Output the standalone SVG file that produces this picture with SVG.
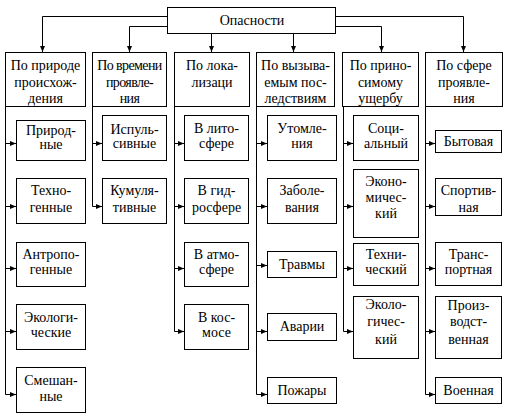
<svg xmlns="http://www.w3.org/2000/svg" width="506" height="418" viewBox="0 0 506 418">
<style>
rect{fill:#fff;stroke:#000;stroke-width:1}
.t text{font-size:14px;fill:#000;text-anchor:middle}
.c path{fill:none;stroke:#000;stroke-width:1}
</style>
<defs>
<marker id="a" markerUnits="userSpaceOnUse" markerWidth="6" markerHeight="5" refX="6" refY="2.5" orient="auto">
<path d="M0,0 L6,2.5 L0,5 Z" fill="#000"/>
</marker>
</defs>
<rect width="506" height="418" style="stroke:none"/>
<g class="c" id="connectors">
<path d="M167,16.5 H42.5 V52" marker-end="url(#a)"/>
<path d="M167,26.5 H129.5 V52" marker-end="url(#a)"/>
<path d="M211.5,34 V52" marker-end="url(#a)"/>
<path d="M293.5,34 V52" marker-end="url(#a)"/>
<path d="M336,26.5 H381.5 V52" marker-end="url(#a)"/>
<path d="M336,16.5 H463.5 V52" marker-end="url(#a)"/>
<path d="M5.5,106 V394.5"/>
<path d="M5.5,143.5 H16" marker-end="url(#a)"/>
<path d="M5.5,206.5 H16" marker-end="url(#a)"/>
<path d="M5.5,268.5 H16" marker-end="url(#a)"/>
<path d="M5.5,331.5 H16" marker-end="url(#a)"/>
<path d="M5.5,394.5 H16" marker-end="url(#a)"/>
<path d="M92.5,106 V206.5"/>
<path d="M92.5,143.5 H102" marker-end="url(#a)"/>
<path d="M92.5,206.5 H102" marker-end="url(#a)"/>
<path d="M174.5,106 V331.5"/>
<path d="M174.5,143.5 H184" marker-end="url(#a)"/>
<path d="M174.5,206.5 H184" marker-end="url(#a)"/>
<path d="M174.5,268.5 H184" marker-end="url(#a)"/>
<path d="M174.5,331.5 H184" marker-end="url(#a)"/>
<path d="M256.5,106 V394.5"/>
<path d="M256.5,143.5 H267" marker-end="url(#a)"/>
<path d="M256.5,206.5 H267" marker-end="url(#a)"/>
<path d="M256.5,265.5 H267" marker-end="url(#a)"/>
<path d="M256.5,331.5 H267" marker-end="url(#a)"/>
<path d="M256.5,394.5 H267" marker-end="url(#a)"/>
<path d="M343.5,106 V331.5"/>
<path d="M343.5,143.5 H353" marker-end="url(#a)"/>
<path d="M343.5,206.5 H353" marker-end="url(#a)"/>
<path d="M343.5,268.5 H353" marker-end="url(#a)"/>
<path d="M343.5,331.5 H353" marker-end="url(#a)"/>
<path d="M425.5,106 V394.5"/>
<path d="M425.5,143.5 H435" marker-end="url(#a)"/>
<path d="M425.5,206.5 H435" marker-end="url(#a)"/>
<path d="M425.5,268.5 H435" marker-end="url(#a)"/>
<path d="M425.5,331.5 H435" marker-end="url(#a)"/>
<path d="M425.5,394.5 H435" marker-end="url(#a)"/>
</g>
<g class="t" font-family="Liberation Serif, Times New Roman, serif" style="font-family:'Liberation Serif','Times New Roman',serif">
<g id="root"><rect x="167.5" y="7.5" width="168" height="26"/><text x="252" y="25">Опасности</text></g>
<g id="cat1"><rect x="5.5" y="52.5" width="80" height="54"/><text><tspan x="45.5" y="70">По природе</tspan><tspan x="45.5" y="87">происхож-</tspan><tspan x="45.5" y="103">дения</tspan></text></g>
<g id="cat2"><rect x="92.5" y="52.5" width="74" height="54"/><text style="letter-spacing:-0.6px"><tspan x="129.5" y="70">По времени</tspan><tspan x="129.5" y="87">проявле-</tspan><tspan x="129.5" y="103">ния</tspan></text></g>
<g id="cat3"><rect x="174.5" y="52.5" width="75" height="54"/><text><tspan x="212" y="70">По лока-</tspan><tspan x="212" y="87">лизаци</tspan></text></g>
<g id="cat4"><rect x="256.5" y="52.5" width="78" height="54"/><text><tspan x="295.5" y="70">По вызыва-</tspan><tspan x="295.5" y="87">емым пос-</tspan><tspan x="295.5" y="103">ледствиям</tspan></text></g>
<g id="cat5"><rect x="342.5" y="52.5" width="76" height="54"/><text><tspan x="380.5" y="70">По прино-</tspan><tspan x="380.5" y="87">симому</tspan><tspan x="380.5" y="103">ущербу</tspan></text></g>
<g id="cat6"><rect x="425.5" y="52.5" width="77" height="54"/><text><tspan x="464" y="70">По сфере</tspan><tspan x="464" y="87">проявле-</tspan><tspan x="464" y="103">ния</tspan></text></g>

<g id="n1a"><rect x="16.5" y="120.5" width="69" height="40"/><text><tspan x="51" y="135">Природ-</tspan><tspan x="51" y="149">ные</tspan></text></g>
<g id="n1b"><rect x="16.5" y="178.5" width="69" height="45"/><text><tspan x="51" y="195">Техно-</tspan><tspan x="51" y="212">генные</tspan></text></g>
<g id="n1c"><rect x="16.5" y="242.5" width="69" height="44"/><text><tspan x="51" y="259">Антропо-</tspan><tspan x="51" y="274">генные</tspan></text></g>
<g id="n1d"><rect x="16.5" y="304.5" width="69" height="45"/><text><tspan x="51" y="322">Экологи-</tspan><tspan x="51" y="337">ческие</tspan></text></g>
<g id="n1e"><rect x="16.5" y="367.5" width="69" height="45"/><text><tspan x="51" y="385">Смешан-</tspan><tspan x="51" y="401">ные</tspan></text></g>

<g id="n2a"><rect x="102.5" y="115.5" width="64" height="45"/><text><tspan x="134.5" y="134">Испуль-</tspan><tspan x="134.5" y="148">сивные</tspan></text></g>
<g id="n2b"><rect x="102.5" y="178.5" width="64" height="45"/><text><tspan x="134.5" y="195">Кумуля-</tspan><tspan x="134.5" y="212">тивные</tspan></text></g>

<g id="n3a"><rect x="184.5" y="115.5" width="64" height="45"/><text><tspan x="216.5" y="133">В лито-</tspan><tspan x="216.5" y="148">сфере</tspan></text></g>
<g id="n3b"><rect x="184.5" y="178.5" width="64" height="45"/><text><tspan x="216.5" y="195">В гид-</tspan><tspan x="216.5" y="212">росфере</tspan></text></g>
<g id="n3c"><rect x="184.5" y="242.5" width="64" height="44"/><text><tspan x="216.5" y="259">В атмо-</tspan><tspan x="216.5" y="274">сфере</tspan></text></g>
<g id="n3d"><rect x="184.5" y="304.5" width="64" height="45"/><text><tspan x="216.5" y="322">В кос-</tspan><tspan x="216.5" y="337">мосе</tspan></text></g>

<g id="n4a"><rect x="267.5" y="115.5" width="69" height="45"/><text><tspan x="302" y="133">Утомле-</tspan><tspan x="302" y="148">ния</tspan></text></g>
<g id="n4b"><rect x="267.5" y="178.5" width="69" height="45"/><text><tspan x="302" y="195">Заболе-</tspan><tspan x="302" y="212">вания</tspan></text></g>
<g id="n4c"><rect x="267.5" y="251.5" width="69" height="26"/><text x="302" y="269">Травмы</text></g>
<g id="n4d"><rect x="267.5" y="313.5" width="69" height="27"/><text x="302" y="331">Аварии</text></g>
<g id="n4e"><rect x="267.5" y="377.5" width="69" height="26"/><text x="302" y="395">Пожары</text></g>

<g id="n5a"><rect x="353.5" y="115.5" width="65" height="45"/><text><tspan x="386" y="133">Соци-</tspan><tspan x="386" y="148">альный</tspan></text></g>
<g id="n5b"><rect x="353.5" y="169.5" width="65" height="68"/><text><tspan x="386" y="186">Эконо-</tspan><tspan x="386" y="202">мичес-</tspan><tspan x="386" y="218">кий</tspan></text></g>
<g id="n5c"><rect x="353.5" y="243.5" width="65" height="42"/><text><tspan x="386" y="259">Техни-</tspan><tspan x="386" y="274">ческий</tspan></text></g>
<g id="n5d"><rect x="353.5" y="296.5" width="65" height="62"/><text><tspan x="386" y="309">Эколо-</tspan><tspan x="386" y="326">гичес-</tspan><tspan x="386" y="344">кий</tspan></text></g>

<g id="n6a"><rect x="435.5" y="130.5" width="66" height="22"/><text x="468.5" y="146">Бытовая</text></g>
<g id="n6b"><rect x="435.5" y="178.5" width="66" height="37"/><text><tspan x="468.5" y="195">Спортив-</tspan><tspan x="468.5" y="212">ная</tspan></text></g>
<g id="n6c"><rect x="435.5" y="242.5" width="66" height="43"/><text><tspan x="468.5" y="259">Транс-</tspan><tspan x="468.5" y="274">портная</tspan></text></g>
<g id="n6d"><rect x="435.5" y="296.5" width="66" height="62"/><text><tspan x="468.5" y="310">Произ-</tspan><tspan x="468.5" y="326">водст-</tspan><tspan x="468.5" y="344">венная</tspan></text></g>
<g id="n6e"><rect x="435.5" y="377.5" width="66" height="26"/><text x="468.5" y="395">Военная</text></g>
</g>
</svg>
